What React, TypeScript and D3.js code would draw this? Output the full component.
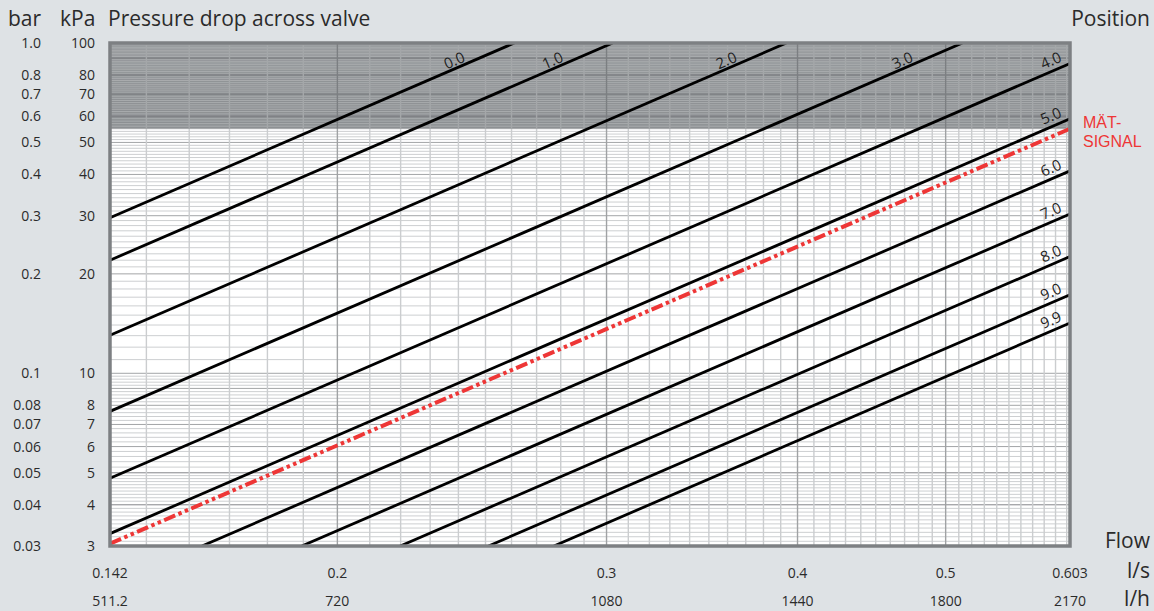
import React from "react";
import * as d3 from "d3";

// Valve positions and their flow coefficients (Kv, m³/h)
const positionLabels = ["0.0", "1.0", "2.0", "3.0", "4.0", "5.0", "6.0", "7.0", "8.0", "9.0", "9.9"];
const positionKv = [0.94, 1.09, 1.416, 1.846, 2.331, 2.827, 3.39, 3.94, 4.57, 5.22, 5.76];

// Measuring-signal curve
const signalKv = 2.927;
const signalLabel = ["MÄT-", "SIGNAL"];

// Axis ticks
const flowTicksLs = [0.142, 0.2, 0.3, 0.4, 0.5, 0.603];
const flowTicksLh = ["511.2", "720", "1080", "1440", "1800", "2170"];
const kpaTicks = [100, 80, 70, 60, 50, 40, 30, 20, 10, 8, 7, 6, 5, 4, 3];
const barTicks = ["1.0", "0.8", "0.7", "0.6", "0.5", "0.4", "0.3", "0.2", "0.1", "0.08", "0.07", "0.06", "0.05", "0.04", "0.03"];

// Shaded region above this pressure drop (kPa)
const bandLimitKpa = 55;

const W = 1154;
const H = 611;
const FONT = "'Open Sans', 'Noto Sans', sans-serif";
const TEXT = "#2b2b2b";

const x = d3.scaleLog().domain([0.142, 0.603]).range([110, 1070]);
const y = d3.scaleLog().domain([3, 100]).range([546, 43]);

// pressure drop in kPa for flow q (l/s) through Kv (m³/h)
const dp = (q: number, kv: number) => 100 * Math.pow((q * 3.6) / kv, 2);
const qAt = (p: number, kv: number) => (kv * Math.sqrt(p / 100)) / 3.6;

function curve(kv: number) {
  const [q0, q1] = x.domain();
  const [p0, p1] = y.domain();
  const qs = Math.max(q0, qAt(p0, kv));
  const qe = Math.min(q1, qAt(p1, kv));
  return { qs, qe, topEnd: qe < q1 };
}

function curvePath(kv: number) {
  const c = curve(kv);
  return (
    d3
      .line<number>()
      .x((q) => x(q))
      .y((q) => y(dp(q, kv)))([c.qs, c.qe]) || ""
  );
}

// grid values
const vGrid = d3.range(15, 61).map((i) => i / 100);
const vMajor = new Set([20, 30, 40, 50]);
const hGrid: { v: number; major: boolean }[] = [];
for (let i = 31; i < 50; i++) hGrid.push({ v: i / 10, major: i % 10 === 0 });
for (let i = 25; i < 50; i++) hGrid.push({ v: i / 5, major: i % 5 === 0 });
for (let i = 10; i < 100; i++) hGrid.push({ v: i, major: i % 10 === 0 });
hGrid.push({ v: 4, major: true }, { v: 5, major: true });

export default function App() {
  const [xl, xr] = x.range();
  const [yb, yt] = y.range();
  const yBand = y(bandLimitKpa);

  const grid = (light: boolean) => (
    <g>
      {hGrid.map((h, i) => (
        <line
          key={"h" + i}
          x1={xl}
          x2={xr}
          y1={y(h.v)}
          y2={y(h.v)}
          stroke={light ? (h.major ? "#7c7f82" : "#a9acae") : h.major ? "#a3a5a7" : "#cdcfd1"}
          strokeWidth={1}
        />
      ))}
      {vGrid.map((q) => {
        const major = vMajor.has(Math.round(q * 100));
        return (
          <line
            key={"v" + q}
            x1={x(q)}
            x2={x(q)}
            y1={yt}
            y2={yb}
            stroke={light ? (major ? "#7c7f82" : "#a4a7a9") : major ? "#a0a2a4" : "#cbcdcf"}
            strokeWidth={1.4}
          />
        );
      })}
    </g>
  );

  const angle = (Math.atan2(y(dp(0.5, 1)) - y(dp(0.2, 1)), x(0.5) - x(0.2)) * 180) / Math.PI;

  return (
    <div style={{ position: "fixed", left: 0, top: 0 }}>
      <svg width={W} height={H} style={{ display: "block" }}>
        <defs>
          <clipPath id="plot">
            <rect x={xl} y={yt} width={xr - xl} height={yb - yt} />
          </clipPath>
          <clipPath id="white">
            <rect x={xl} y={yBand} width={xr - xl} height={yb - yBand} />
          </clipPath>
          <clipPath id="band">
            <rect x={xl} y={yt} width={xr - xl} height={yBand - yt} />
          </clipPath>
        </defs>
        <rect width={W} height={H} fill="#dee2e5" />

        {/* plot background and grid */}
        <rect x={xl} y={yt} width={xr - xl} height={yb - yt} fill="#ffffff" />
        <g clipPath="url(#white)">{grid(false)}</g>
        <rect x={xl} y={yt} width={xr - xl} height={yBand - yt} fill="#8d9093" />
        <g clipPath="url(#band)">{grid(true)}</g>

        {/* position curves */}
        <g clipPath="url(#plot)">
          {positionKv.map((kv, i) => (
            <path key={positionLabels[i]} d={curvePath(kv)} fill="none" stroke="#000" strokeWidth={2.8} />
          ))}
          <path
            d={curvePath(signalKv)}
            fill="none"
            stroke="#ee3636"
            strokeWidth={4}
            strokeDasharray="12 3.5 3.5 3.5 3.5 3.5"
          />
        </g>

        {/* frame */}
        <rect x={xl} y={yt} width={xr - xl} height={yb - yt} fill="none" stroke="#7d8083" strokeWidth={3.5} />

        {/* curve labels */}
        {positionKv.map((kv, i) => {
          const c = curve(kv);
          const ex = x(c.qe);
          const lx = c.topEnd ? ex - 57 : ex - 15;
          const ly = y(dp(x.invert(lx), kv));
          return (
            <text
              key={"l" + i}
              transform={`translate(${lx},${ly}) rotate(${angle})`}
              y={c.topEnd ? -2.5 : -5}
              textAnchor="middle"
              fontFamily={FONT}
              fontSize={15}
              fill="#1e1e1e"
            >
              {positionLabels[i]}
            </text>
          );
        })}
        <text fontFamily="'Liberation Sans', Arial, sans-serif" fontSize={16} fill="#ee3636">
          <tspan x={1083} y={128}>
            {signalLabel[0]}
          </tspan>
          <tspan x={1083} y={147}>
            {signalLabel[1]}
          </tspan>
        </text>

        {/* pressure axis */}
        {kpaTicks.map((k, i) => (
          <g key={"k" + k} fontFamily={FONT} fontSize={14} fill={TEXT}>
            <text x={41} y={y(k)} dy="0.36em" textAnchor="end">
              {barTicks[i]}
            </text>
            <text x={95} y={y(k)} dy="0.36em" textAnchor="end">
              {k}
            </text>
          </g>
        ))}

        {/* flow axis */}
        {flowTicksLs.map((q, i) => (
          <g key={"q" + q} fontFamily={FONT} fontSize={14} fill={TEXT} textAnchor="middle">
            <text x={x(q)} y={578}>
              {q}
            </text>
            <text x={x(q)} y={606}>
              {flowTicksLh[i]}
            </text>
          </g>
        ))}

        {/* headings */}
        <g fontFamily={FONT} fontSize={21} fill={TEXT}>
          <text x={8} y={26}>bar</text>
          <text x={60} y={26}>kPa</text>
          <text x={108} y={26}>Pressure drop across valve</text>
          <text x={1150} y={26} textAnchor="end">Position</text>
          <text x={1150} y={548} textAnchor="end">Flow</text>
          <text x={1150} y={578} textAnchor="end">l/s</text>
          <text x={1150} y={606} textAnchor="end">l/h</text>
        </g>
      </svg>
    </div>
  );
}
